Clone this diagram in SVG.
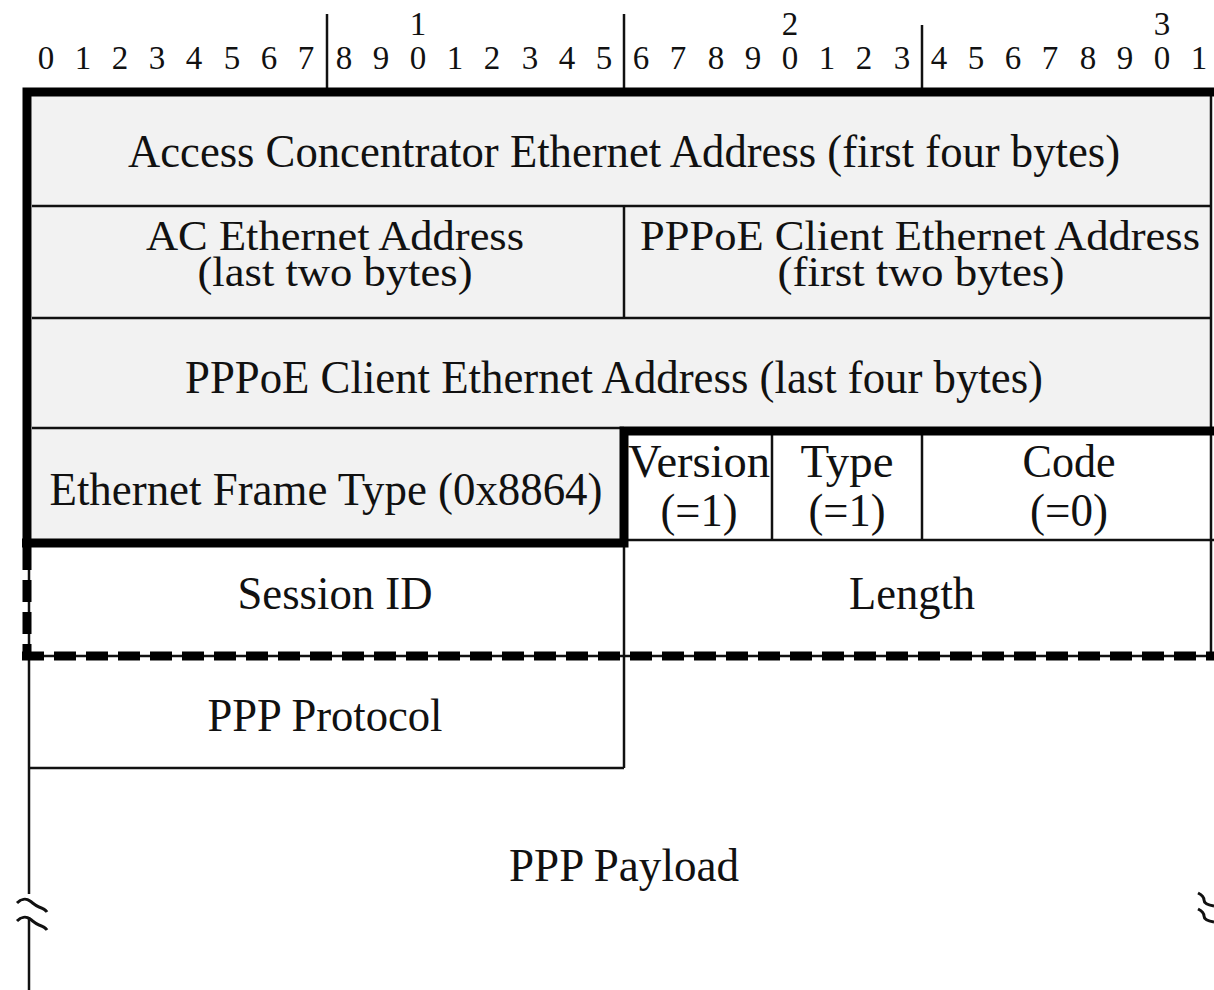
<svg xmlns="http://www.w3.org/2000/svg" width="1214" height="990" viewBox="0 0 1214 990">
<style>
text{font-family:"Liberation Serif","Times New Roman",serif;fill:#111;text-anchor:middle}
.d{font-size:33px}
.t{font-size:46px}
.s{font-size:42px}
.thin{stroke:#111;stroke-width:2.5;fill:none}
.thick{stroke:#000;stroke-width:9;fill:none}
.dash{stroke:#000;stroke-width:9;fill:none;stroke-dasharray:22 10}
.brk{stroke:#111;stroke-width:3;fill:none}
.g{fill:#f2f2f2}
</style>
<rect width="1214" height="990" fill="#fff"/>
<g id="ruler">
<line class="thin" x1="327" y1="14" x2="327" y2="90"/>
<line class="thin" x1="624" y1="14" x2="624" y2="90"/>
<line class="thin" x1="922" y1="25" x2="922" y2="90"/>
<text class="d" x="418" y="35">1</text>
<text class="d" x="790" y="35">2</text>
<text class="d" x="1162" y="35">3</text>
<text class="d" x="46" y="69">0</text><text class="d" x="83" y="69">1</text><text class="d" x="120" y="69">2</text><text class="d" x="157" y="69">3</text><text class="d" x="194" y="69">4</text><text class="d" x="232" y="69">5</text><text class="d" x="269" y="69">6</text><text class="d" x="306" y="69">7</text>
<text class="d" x="344" y="69">8</text><text class="d" x="381" y="69">9</text><text class="d" x="418" y="69">0</text><text class="d" x="455" y="69">1</text><text class="d" x="492" y="69">2</text><text class="d" x="530" y="69">3</text><text class="d" x="567" y="69">4</text><text class="d" x="604" y="69">5</text>
<text class="d" x="641" y="69">6</text><text class="d" x="678" y="69">7</text><text class="d" x="716" y="69">8</text><text class="d" x="753" y="69">9</text><text class="d" x="790" y="69">0</text><text class="d" x="827" y="69">1</text><text class="d" x="864" y="69">2</text><text class="d" x="902" y="69">3</text>
<text class="d" x="939" y="69">4</text><text class="d" x="976" y="69">5</text><text class="d" x="1013" y="69">6</text><text class="d" x="1050" y="69">7</text><text class="d" x="1088" y="69">8</text><text class="d" x="1125" y="69">9</text><text class="d" x="1162" y="69">0</text><text class="d" x="1199" y="69">1</text>
</g>
<g id="fills">
<rect class="g" x="32" y="96" width="1179" height="336"/>
<rect class="g" x="32" y="432" width="590" height="108"/>
</g>
<g id="connectors">
<line class="thin" x1="32" y1="206" x2="1211" y2="206"/>
<line class="thin" x1="32" y1="318" x2="1211" y2="318"/>
<line class="thin" x1="32" y1="428" x2="624" y2="428"/>
<line class="thin" x1="624" y1="206" x2="624" y2="318"/>
<line class="thin" x1="624" y1="540" x2="1214" y2="540"/>
<line class="thin" x1="772" y1="432" x2="772" y2="540"/>
<line class="thin" x1="922" y1="432" x2="922" y2="540"/>
<line class="thin" x1="1211" y1="92" x2="1211" y2="656"/>
<line class="thin" x1="624" y1="540" x2="624" y2="768"/>
<line class="thin" x1="29" y1="768" x2="624" y2="768"/>
<line class="thin" x1="29" y1="548" x2="29" y2="894"/>
<line class="thin" x1="29" y1="917" x2="29" y2="990"/>
<line class="thin" x1="22" y1="656" x2="1214" y2="656"/>
<path class="thick" d="M27,548 V92 H1214"/>
<path class="thick" d="M22,543 H624 V431 H1214"/>
<line class="dash" x1="27" y1="548" x2="27" y2="656"/>
<line class="dash" x1="22" y1="656" x2="1214" y2="656"/>
<path class="brk" d="M17,903 c4,-4 9,-5 13,-2 s6,5 9,6 s6,2 8,5"/>
<path class="brk" d="M17,921 c4,-4 9,-5 13,-2 s6,5 9,6 s6,2 8,5"/>
<path class="brk" d="M1198,893 c4,2 6,4 6,7 s4,5 10,6"/>
<path class="brk" d="M1198,909 c4,2 6,4 6,7 s4,5 10,6"/>
</g>
<g id="ac-addr-first"><text class="t" x="624" y="167" textLength="992" lengthAdjust="spacingAndGlyphs">Access Concentrator Ethernet Address (first four bytes)</text></g>
<g id="ac-addr-last"><text class="s" x="335" y="250" textLength="378" lengthAdjust="spacingAndGlyphs">AC Ethernet Address</text><text class="s" x="335" y="286" textLength="275" lengthAdjust="spacingAndGlyphs">(last two bytes)</text></g>
<g id="client-addr-first"><text class="s" x="920" y="250" textLength="560" lengthAdjust="spacingAndGlyphs">PPPoE Client Ethernet Address</text><text class="s" x="921" y="286" textLength="287" lengthAdjust="spacingAndGlyphs">(first two bytes)</text></g>
<g id="client-addr-last"><text class="t" x="614" y="393" textLength="858" lengthAdjust="spacingAndGlyphs">PPPoE Client Ethernet Address (last four bytes)</text></g>
<g id="ether-type"><text class="t" x="326" y="505" textLength="553" lengthAdjust="spacingAndGlyphs">Ethernet Frame Type (0x8864)</text></g>
<g id="version"><text class="t" x="699" y="477" textLength="142" lengthAdjust="spacingAndGlyphs">Version</text><text class="t" x="699" y="526" textLength="77" lengthAdjust="spacingAndGlyphs">(=1)</text></g>
<g id="type"><text class="t" x="847" y="477" textLength="93" lengthAdjust="spacingAndGlyphs">Type</text><text class="t" x="847" y="526" textLength="77" lengthAdjust="spacingAndGlyphs">(=1)</text></g>
<g id="code"><text class="t" x="1069" y="477" textLength="93" lengthAdjust="spacingAndGlyphs">Code</text><text class="t" x="1069" y="526" textLength="78" lengthAdjust="spacingAndGlyphs">(=0)</text></g>
<g id="session-id"><text class="t" x="335" y="609" textLength="195" lengthAdjust="spacingAndGlyphs">Session ID</text></g>
<g id="length"><text class="t" x="912" y="609" textLength="126" lengthAdjust="spacingAndGlyphs">Length</text></g>
<g id="ppp-protocol"><text class="t" x="325" y="731" textLength="235" lengthAdjust="spacingAndGlyphs">PPP Protocol</text></g>
<g id="ppp-payload"><text class="t" x="624" y="881" textLength="230" lengthAdjust="spacingAndGlyphs">PPP Payload</text></g>
</svg>
